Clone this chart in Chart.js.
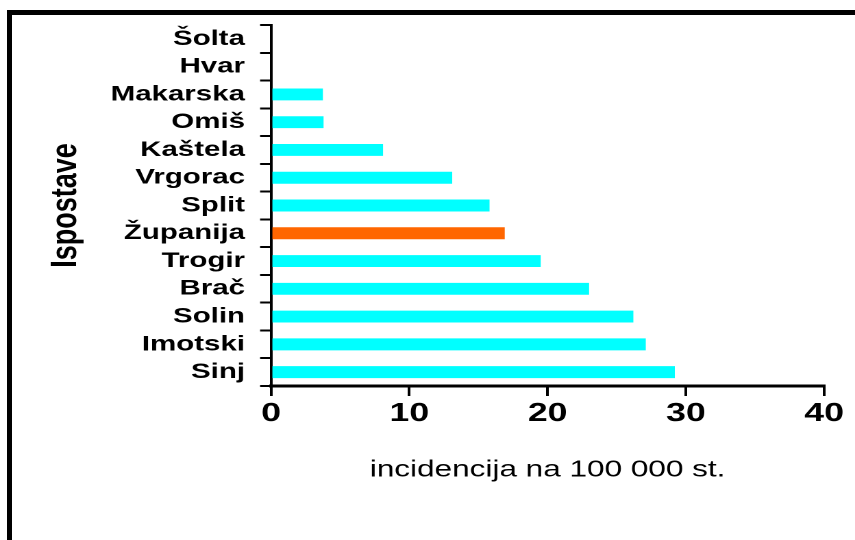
<!DOCTYPE html>
<html>
<head>
<meta charset="utf-8">
<script src="https://cdn.jsdelivr.net/npm/chart.js@4/dist/chart.umd.min.js"></script>
<style>
  html, body { margin: 0; padding: 0; background: #fff; overflow: hidden; }
  #wrap { position: absolute; left: 0; top: 0; width: 855px; height: 540px; }
  #stretch { position: absolute; left: 0; top: 0; width: 624px; height: 540px;
             transform: scaleX(1.3702); transform-origin: 0 0; }
  #frame { position: absolute; left: 7px; top: 10px; width: 860px; height: 540px;
           border-top: 5px solid #000; border-left: 5px solid #000; pointer-events: none; }
</style>
</head>
<body>
<div id="wrap">
  <div id="stretch"><canvas id="c" width="624" height="540"></canvas></div>
  <div id="frame"></div>
</div>
<script>
// ---- data ----
const categories = ['Šolta', 'Hvar', 'Makarska', 'Omiš', 'Kaštela', 'Vrgorac', 'Split',
                    'Županija', 'Trogir', 'Brač', 'Solin', 'Imotski', 'Sinj'];
const incidence = [0, 0, 3.75, 3.8, 8.1, 13.1, 15.8, 16.9, 19.5, 23.0, 26.2, 27.1, 29.2];
const highlighted = ['Županija'];
const xTicks = [0, 10, 20, 30, 40];
const xTitle = 'incidencija na 100 000 st.';
const yTitle = 'Ispostave';

// ---- styling ----
const FONT = "'Liberation Sans', Arial, Helvetica, sans-serif";
const barColors = categories.map(c => highlighted.includes(c) ? '#FF6600' : '#00FFFF');

new Chart(document.getElementById('c'), {
  type: 'bar',
  data: {
    labels: categories,
    datasets: [{
      data: incidence,
      backgroundColor: barColors,
      borderWidth: 0,
      barPercentage: 0.43,
      categoryPercentage: 1
    }]
  },
  options: {
    indexAxis: 'y',
    responsive: false,
    animation: false,
    devicePixelRatio: 2,
    layout: { padding: { left: 28, top: 25, right: 22.5, bottom: 0 } },
    plugins: { legend: { display: false }, tooltip: { enabled: false } },
    scales: {
      x: {
        type: 'linear',
        min: xTicks[0],
        max: xTicks[xTicks.length - 1],
        afterBuildTicks: (axis) => { axis.ticks = xTicks.map(v => ({ value: v })); },
        ticks: { color: '#000', padding: 2, font: { family: FONT, size: 26, weight: 'bold' } },
        grid: { drawOnChartArea: false, drawTicks: true, tickLength: 10, color: '#000', lineWidth: 2 },
        border: { display: true, color: '#000', width: 3 },
        title: {
          display: true, text: xTitle, color: '#000',
          font: { family: FONT, size: 23, weight: 'normal' },
          padding: { top: 0, bottom: 56 }
        },
        afterFit: (axis) => { axis.height = 154; }
      },
      y: {
        type: 'category',
        ticks: { color: '#000', padding: 11, autoSkip: false, font: { family: FONT, size: 21.5, weight: 'bold' } },
        grid: { drawOnChartArea: false, drawTicks: true, tickLength: 8, color: '#000', lineWidth: 2, offset: true },
        border: { display: true, color: '#000', width: 2 },
        title: {
          display: true, text: yTitle, color: '#000',
          font: { family: FONT, size: 27, weight: 'bold' },
          padding: { top: 4, bottom: 4 }
        },
        afterFit: (axis) => { axis.width = 169.8; }
      }
    }
  }
});
</script>
</body>
</html>
